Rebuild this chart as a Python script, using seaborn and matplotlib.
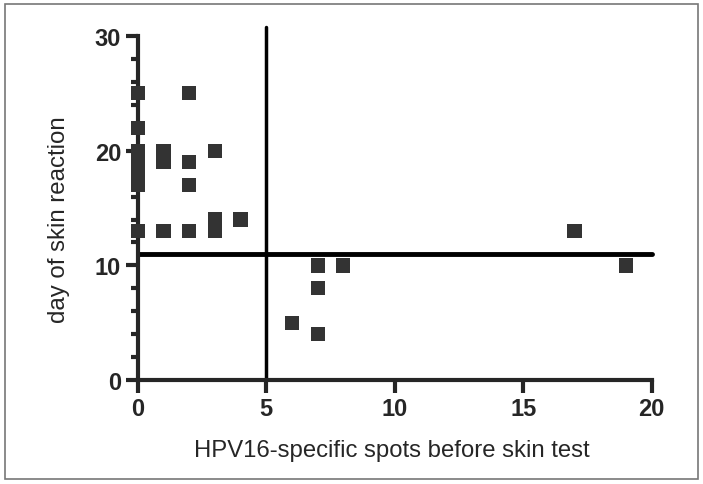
import matplotlib
matplotlib.use('Agg')
import matplotlib.pyplot as plt
import seaborn as sns
import pandas as pd
from matplotlib.patches import Rectangle
from matplotlib.ticker import MultipleLocator

# Data
spots = [0, 0, 0, 0, 0, 0, 0,
         1, 1, 1,
         2, 2, 2, 2,
         3, 3, 3, 4,
         6, 7, 7, 7, 8, 17, 19]
days = [25, 22, 20, 19, 18, 17, 13,
        20, 19, 13,
        25, 19, 17, 13,
        20, 14, 13, 14,
        5, 10, 8, 4, 10, 13, 10]

spot_cutoff = 5
day_cutoff = 11

df = pd.DataFrame({'spots': spots, 'days': days})

sns.set_style('ticks')
plt.rcParams['font.family'] = ['Liberation Sans', 'DejaVu Sans']

fig = plt.figure(figsize=(7.03, 4.85), dpi=100)
ax = fig.add_axes([0.196, 0.214, 0.731, 0.710])

sns.scatterplot(data=df, x='spots', y='days', marker='s', s=105,
                color='#333333', edgecolor='none', ax=ax, clip_on=False, zorder=5)

ax.set_xlim(0, 20)
ax.set_ylim(0, 30)
ax.axvline(spot_cutoff, ymin=0, ymax=30.8 / 30, color='black', lw=2.5, clip_on=False)
ax.plot([0, 20], [day_cutoff, day_cutoff], color='black', lw=3.5, clip_on=False,
        solid_capstyle='round')

ax.xaxis.set_major_locator(MultipleLocator(5))
ax.yaxis.set_major_locator(MultipleLocator(10))
ax.yaxis.set_minor_locator(MultipleLocator(2))

for s in ['top', 'right']:
    ax.spines[s].set_visible(False)
for s in ['left', 'bottom']:
    ax.spines[s].set_linewidth(3)

ax.tick_params(axis='both', which='major', length=9, width=3, pad=3)
ax.tick_params(axis='y', which='minor', length=5, width=3)
for lbl in ax.get_xticklabels() + ax.get_yticklabels():
    lbl.set_fontweight('bold')
    lbl.set_fontsize(17)
    lbl.set_family(['Liberation Sans Narrow', 'Liberation Sans'])

ax.set_xlabel('HPV16-specific spots before skin test', fontsize=17.2)
ax.set_ylabel('day of skin reaction', fontsize=17.3)
ax.xaxis.set_label_coords(0.494, -0.172)
ax.yaxis.set_label_coords(-0.132, 0.468)

fig.patches.append(Rectangle((0.007, 0.01), 0.986, 0.98, transform=fig.transFigure,
                             fill=False, edgecolor='#777777', lw=1.2))

fig.savefig('out.png', dpi=100)
